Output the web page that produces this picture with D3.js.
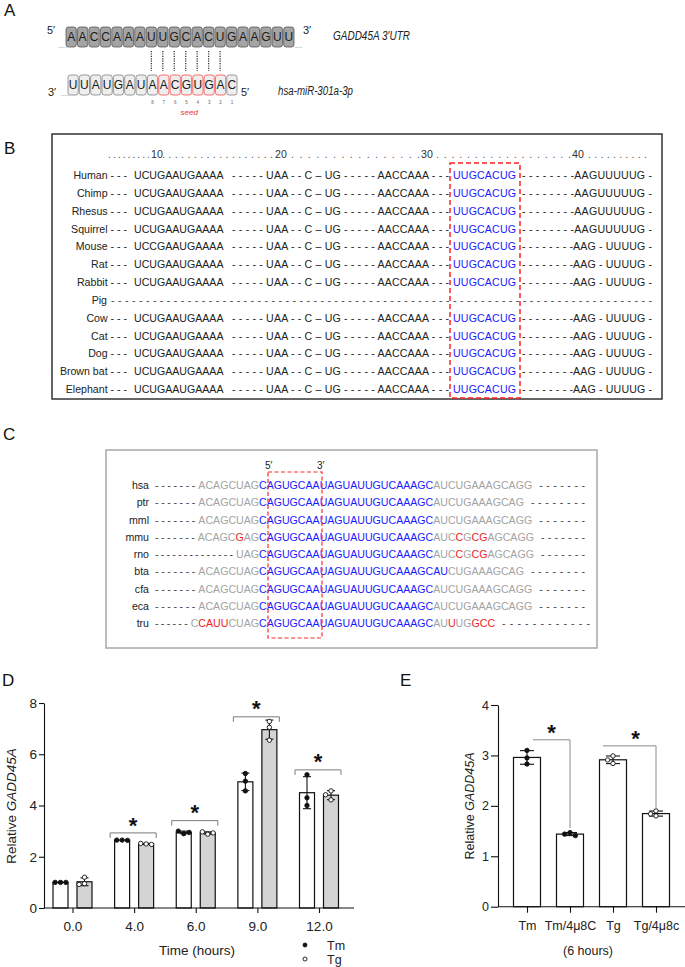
<!DOCTYPE html>
<html><head><meta charset="utf-8">
<script src="https://cdn.jsdelivr.net/npm/d3@7"></script>
<style>
body{margin:0;background:#fff}
svg{display:block;font-family:"Liberation Sans",Arial,Helvetica,sans-serif}
</style>
</head><body>
<svg id="c" width="685" height="967"></svg>
<script>
// ---------------- DATA ----------------
// Panel A
const utrSeq = "AACCAAAUUGCACUGAAGUU".split("");
const mirSeq = "UUAUGAUAACGUGAC".split("");
const seedIdx = [8, 9, 10, 11, 12, 13];
const pairIdx = [7, 8, 9, 10, 11, 12, 13];
const seedNums = ["8", "7", "6", "5", "4", "3", "2", "1"]; // under miR positions 7..14

// Panel B
const speciesB = ["Human","Chimp","Rhesus","Squirrel","Mouse","Rat","Rabbit","Pig","Cow","Cat","Dog","Brown bat","Elephant"];
const seq1B = ["UCUGAAUGAAAA","UCUGAAUGAAAA","UCUGAAUGAAAA","UCUGAAUGAAAA","UCCGAAUGAAAA","UCUGAAUGAAAA","UCUGAAUGAAAA","","UCUGAAUGAAAA","UCUGAAUGAAAA","UCUGAAUGAAAA","UCUGAAUGAAAA","UCUGAAUGAAAA"];
const midB = "- - - - - UAA - - C \u2013 UG - - - - - AACCAAA - - -";
const seedB = "UUGCACUG";
const tailB = ["- - - - - - - -AAGUUUUUG -","- - - - - - - -AAGUUUUUG -","- - - - - - - -AAGUUUUUG -","- - - - - - - -AAGUUUUUG -",
  "- - - - - - - -AAG - UUUUG -","- - - - - - - -AAG - UUUUG -","- - - - - - - -AAG - UUUUG -","",
  "- - - - - - - -AAG - UUUUG -","- - - - - - - -AAG - UUUUG -","- - - - - - - -AAG - UUUUG -","- - - - - - - -AAG - UUUUG -","- - - - - - - -AAG - UUUUG -"];
const rulerB = [[". . . . . . . . .", "10"], [". . . . . . . . . . . . . . . . . .", "20"], [". . . . . . . . . . . . . . . .", "30"], [". . . . . . . . . . . . . . . . . .", "40"], [". . . . . . . . . .", ""]];

// Panel C
const namesC = ["hsa","ptr","mml","mmu","rno","bta","cfa","eca","tru"];
const dashPreC = [7,7,7,7,14,7,7,7,6];
const preC = [
  [["ACAGCUAG","g"]],[["ACAGCUAG","g"]],[["ACAGCUAG","g"]],
  [["ACAGC","g"],["G","r"],["AG","g"]],
  [["UAG","g"]],
  [["ACAGCUAG","g"]],[["ACAGCUAG","g"]],[["ACAGCUAG","g"]],
  [["C","g"],["CAUU","r"],["CUAG","g"]]
];
const coreC = ["CAGUGCAAUAGUAUUGUCAAAGC","CAGUGCAAUAGUAUUGUCAAAGC","CAGUGCAAUAGUAUUGUCAAAGC","CAGUGCAAUAGUAUUGUCAAAGC",
  "CAGUGCAAUAGUAUUGUCAAAGC","CAGUGCAAUAGUAUUGUCAAAGCAU","CAGUGCAAUAGUAUUGUCAAAGC","CAGUGCAAUAGUAUUGUCAAAGC","CAGUGCAAUAGUAUUGUCAAAGC"];
const postC = [
  [["AUCUGAAAGCAGG","g"]],[["AUCUGAAAGCAG","g"]],[["AUCUGAAAGCAGG","g"]],
  [["AUC","g"],["C","r"],["G","g"],["CG","r"],["AGCAGG","g"]],
  [["AUC","g"],["C","r"],["G","g"],["CG","r"],["AGCAGG","g"]],
  [["CUGAAAGCAG","g"]],[["AUCUGAAAGCAGG","g"]],[["AUCUGAAAGCAGG","g"]],
  [["AU","g"],["U","r"],["UG","g"],["GCC","r"]]
];
const dashPostC = [7,8,7,7,7,8,7,7,12];

// Panel D
const timeCats = ["0.0","4.0","6.0","9.0","12.0"];
const seriesD = ["Tm","Tg"];
const tmPts = [[1.0,1.0,1.0],[2.65,2.65,2.64],[2.9,3.0,2.95],[5.25,4.95,4.57],[5.2,4.3,4.0]];
const tgPts = [[1.2,0.95,0.92],[2.5,2.52,2.48],[2.88,2.97,2.93],[7.28,7.05,6.55],[4.57,4.42,4.22]];
const sigCatsD = ["4.0","6.0","9.0","12.0"];
const sigLevelsD = [2.93,3.41,7.46,5.39];
const yTicksD = [0,2,4,6,8];

// Panel E
const condE = ["Tm","Tm/4\u03bc8C","Tg","Tg/4\u03bc8c"];
const ptsE = [[3.1,2.95,2.83],[1.47,1.44,1.41],[2.99,2.91,2.84],[1.9,1.84,1.8]];
const filledE = [true,true,false,false];
const sigFromE = ["Tm","Tg"];
const sigToE = ["Tm/4\u03bc8C","Tg/4\u03bc8c"];
const sigLevelsE = [3.31,3.19];
const sigDropE = [1.56,1.92];
const yTicksE = [0,1,2,3,4];

// ---------------- DRAW ----------------
const svg = d3.select("#c");
const colors = {g:"#a3a3a3", r:"#ee1c1c", b:"#1a1aff", d:"#444", k:"#222"};

// panel letters
const letters = [["A",4,16],["B",4,154],["C",3,440],["D",2,686],["E",400,686]];
svg.selectAll("text.plabel").data(letters).join("text").attr("class","plabel")
  .attr("x",d=>d[1]).attr("y",d=>d[2]).attr("font-size",17).attr("fill","#111").text(d=>d[0]);

// ===== Panel A =====
const gA = svg.append("g");
const topX = d3.scaleBand().domain(d3.range(utrSeq.length)).range([66,294]).paddingInner(0.1);
const botX = d3.scaleBand().domain(d3.range(mirSeq.length)).range([68,237]).paddingInner(0.1);
const topY = 27, botY = 75, boxH = 20;
gA.selectAll("rect.t").data(utrSeq).join("rect").attr("class","t")
  .attr("x",(d,i)=>topX(i)).attr("y",topY).attr("width",topX.bandwidth()).attr("height",boxH)
  .attr("rx",2.5).attr("fill","#a4a4a4").attr("stroke","#555").attr("stroke-width",0.8);
gA.selectAll("text.t").data(utrSeq).join("text").attr("class","t")
  .attr("x",(d,i)=>topX(i)+topX.bandwidth()/2).attr("y",topY+boxH/2+4.3)
  .attr("text-anchor","middle").attr("font-size",12).attr("fill","#1a1a1a").text(d=>d);
gA.selectAll("rect.b").data(mirSeq).join("rect").attr("class","b")
  .attr("x",(d,i)=>botX(i)).attr("y",botY).attr("width",botX.bandwidth()).attr("height",boxH)
  .attr("rx",2.5).attr("fill","#eeeeee")
  .attr("stroke",(d,i)=>seedIdx.includes(i)?"#ff5a5a":"#8c8c8c").attr("stroke-width",0.9);
gA.selectAll("text.b").data(mirSeq).join("text").attr("class","b")
  .attr("x",(d,i)=>botX(i)+botX.bandwidth()/2).attr("y",botY+boxH/2+4.3)
  .attr("text-anchor","middle").attr("font-size",12).attr("fill","#1a1a1a").text(d=>d);
gA.selectAll("line.p").data(pairIdx).join("line").attr("class","p")
  .attr("x1",i=>topX(i)+topX.bandwidth()/2).attr("x2",i=>topX(i)+topX.bandwidth()/2)
  .attr("y1",51).attr("y2",71).attr("stroke","#333").attr("stroke-width",1.3).attr("stroke-dasharray","1.2,1.2");
gA.selectAll("text.n").data(seedNums).join("text").attr("class","n")
  .attr("x",(d,k)=>botX(7+k)+botX.bandwidth()/2).attr("y",104)
  .attr("text-anchor","middle").attr("font-size",4.5).attr("fill","#666").text(d=>d);
gA.append("text").attr("x",(botX(8)+botX(13)+botX.bandwidth())/2-3).attr("y",115)
  .attr("text-anchor","middle").attr("font-size",8).attr("font-style","italic").attr("fill","#ee3333").text("seed");
const aTexts = [["5\u2032",47,34,11],["3\u2032",303,34,11],["3\u2032",48,96,11],["5\u2032",241,96,11]];
gA.selectAll("text.e").data(aTexts).join("text").attr("class","e")
  .attr("x",d=>d[1]).attr("y",d=>d[2]).attr("font-size",d=>d[3]).attr("fill","#222").text(d=>d[0]);
const aDots = [[58,48],[294,48],[61,96]];
gA.selectAll("text.dd").data(aDots).join("text").attr("class","dd")
  .attr("x",d=>d[0]).attr("y",d=>d[1]).attr("font-size",6).attr("fill","#444").text(".....");
gA.append("text").attr("x",333).attr("y",40).attr("font-size",12.5).attr("font-style","italic")
  .attr("fill","#222").attr("textLength",77).attr("lengthAdjust","spacingAndGlyphs").text("GADD45A 3\u2032UTR");
gA.append("text").attr("x",278).attr("y",95).attr("font-size",12.5).attr("font-style","italic")
  .attr("fill","#222").attr("textLength",75).attr("lengthAdjust","spacingAndGlyphs").text("hsa-miR-301a-3p");

// ===== Panel B =====
const gB = svg.append("g").attr("font-size",10.6).attr("fill","#222");
gB.append("rect").attr("x",52).attr("y",134).attr("width",610).attr("height",265)
  .attr("fill","none").attr("stroke","#333").attr("stroke-width",1.5);
const rulerX = [[108,150],[162,273],[291,420],[436,571],[588,647]];
const rulerNumX = [151,275,421,572];
rulerB.forEach((r,i)=>{
  gB.append("text").attr("x",rulerX[i][0]).attr("y",158).attr("fill","#555")
    .attr("textLength",rulerX[i][1]-rulerX[i][0]).attr("lengthAdjust","spacing").text(r[0]);
  if (r[1]) gB.append("text").attr("x",rulerNumX[i]).attr("y",158).attr("fill","#333").text(r[1]);
});
const rowYB = d3.scalePoint().domain(speciesB).range([175,389]);
speciesB.forEach((sp,i)=>{
  const y = rowYB(sp)+4;
  if (sp === "Pig") {
    gB.append("text").attr("x",107).attr("y",y).attr("text-anchor","end").text(sp);
    gB.append("text").attr("x",111).attr("y",y).attr("fill","#444")
      .attr("textLength",541).attr("lengthAdjust","spacing").text(d3.range(78).map(()=>"-").join(" "));
    return;
  }
  gB.append("text").attr("x",127).attr("y",y).attr("text-anchor","end").text(sp+" - - -");
  gB.append("text").attr("x",134).attr("y",y).text(seq1B[i]);
  gB.append("text").attr("x",232).attr("y",y).attr("textLength",217).attr("lengthAdjust","spacing").text(midB);
  gB.append("text").attr("x",453).attr("y",y).attr("fill",colors.b).attr("textLength",63).attr("lengthAdjust","spacing").text(seedB);
  gB.append("text").attr("x",522).attr("y",y).attr("textLength",130).attr("lengthAdjust","spacing").text(tailB[i]);
});
gB.append("rect").attr("x",450).attr("y",163).attr("width",70).attr("height",235)
  .attr("fill","none").attr("stroke","#ff2222").attr("stroke-width",1.5).attr("stroke-dasharray","5,3");

// ===== Panel C =====
const gC = svg.append("g").attr("font-size",10.6);
gC.append("rect").attr("x",106).attr("y",450).attr("width",491).attr("height",198)
  .attr("fill","none").attr("stroke","#a8a8a8").attr("stroke-width",1.5);
const rowYC = d3.scalePoint().domain(namesC).range([485,623]);
const coreX = 259;
namesC.forEach((nm,i)=>{
  const y = rowYC(nm)+4;
  gC.append("text").attr("x",149).attr("y",y).attr("text-anchor","end").attr("fill","#222").text(nm);
  const pre = gC.append("text").attr("x",coreX).attr("y",y).attr("text-anchor","end");
  preC[i].forEach(s=>pre.append("tspan").attr("fill",colors[s[1]]).text(s[0]));
  const preW = pre.node().getComputedTextLength();
  const preStart = coreX - preW;
  gC.append("text").attr("x",155).attr("y",y).attr("fill","#444")
    .attr("textLength",preStart-3-155).attr("lengthAdjust","spacing")
    .text(d3.range(dashPreC[i]).map(()=>"-").join(" "));
  const post = gC.append("text").attr("x",coreX).attr("y",y);
  post.append("tspan").attr("fill",colors.b).text(coreC[i]);
  postC[i].forEach(s=>post.append("tspan").attr("fill",colors[s[1]]).text(s[0]));
  const postEnd = coreX + post.node().getComputedTextLength();
  const endX = nm === "tru" ? 590 : 585;
  gC.append("text").attr("x",postEnd+7).attr("y",y).attr("fill","#444")
    .attr("textLength",endX-postEnd-7).attr("lengthAdjust","spacing")
    .text(d3.range(dashPostC[i]).map(()=>"-").join(" "));
});
gC.append("rect").attr("x",268).attr("y",472).attr("width",54).attr("height",166)
  .attr("fill","none").attr("stroke","#ff2a2a").attr("stroke-width",1.2).attr("stroke-dasharray","4,2.5");
gC.append("text").attr("x",265).attr("y",469).attr("font-size",10).attr("fill","#222").text("5\u2032");
gC.append("text").attr("x",317).attr("y",469).attr("font-size",10).attr("fill","#222").text("3\u2032");

// helper: swarm offsets
function swarm(vals, yScale, r) {
  const placed = [];
  const cands = [0,-1,1,-2,2,-3,3];
  return vals.map(v=>{
    const y = yScale(v);
    let off = 0;
    for (const c of cands) {
      const dx = c*(2*r+1);
      if (placed.every(p=>Math.hypot(p[0]-dx,p[1]-y) >= 2*r+0.6)) { off = dx; break; }
    }
    placed.push([off,y]);
    return off;
  });
}
function styleAxis(g, fs) {
  g.selectAll("text").attr("font-size",fs).attr("fill","#222").attr("font-family",'"Liberation Sans",Arial,sans-serif');
  g.selectAll("line").attr("stroke","#111").attr("stroke-width",1.1);
  g.selectAll("path").attr("stroke","#111").attr("stroke-width",1.1);
}

// ===== Panel D =====
const gD = svg.append("g");
const xD = d3.scalePoint().domain(timeCats).range([72.5,319]);
const subD = d3.scaleBand().domain(seriesD).range([-19.5,19.5]).paddingInner(0.375);
const yD = d3.scaleLinear().domain([0,8]).range([908,703]);
const dataD = [];
timeCats.forEach((c,i)=>{
  [[tmPts[i],"Tm"],[tgPts[i],"Tg"]].forEach(([pts,s])=>{
    dataD.push({cat:c, s, pts, mean:d3.mean(pts), sd:d3.deviation(pts)});
  });
});
gD.selectAll("rect.bar").data(dataD).join("rect").attr("class","bar")
  .attr("x",d=>xD(d.cat)+subD(d.s)).attr("width",subD.bandwidth())
  .attr("y",d=>yD(d.mean)).attr("height",d=>yD(0)-yD(d.mean))
  .attr("fill",d=>d.s==="Tm"?"#ffffff":"#d4d4d4").attr("stroke","#111").attr("stroke-width",1.2);
dataD.forEach(d=>{
  const cx = xD(d.cat)+subD(d.s)+subD.bandwidth()/2;
  if (d.sd > 0.01) {
    gD.append("line").attr("x1",cx).attr("x2",cx).attr("y1",yD(d.mean-d.sd)).attr("y2",yD(d.mean+d.sd)).attr("stroke","#111").attr("stroke-width",1.1);
    [d.mean-d.sd,d.mean+d.sd].forEach(v=>gD.append("line").attr("x1",cx-4).attr("x2",cx+4).attr("y1",yD(v)).attr("y2",yD(v)).attr("stroke","#111").attr("stroke-width",1.1));
  }
  const offs = swarm(d.pts,yD,2.2);
  d.pts.forEach((v,k)=>{
    gD.append("circle").attr("cx",cx+offs[k]).attr("cy",yD(v)).attr("r",2.2)
      .attr("fill",d.s==="Tm"?"#111":"#fff").attr("stroke","#111").attr("stroke-width",0.9);
  });
});
const axYD = gD.append("g").attr("transform","translate(44,0)")
  .call(d3.axisLeft(yD).tickValues(yTicksD).tickSize(5).tickSizeOuter(0).tickPadding(2).tickFormat(d3.format("d")));
styleAxis(axYD,13.5);
const axXD = gD.append("g").attr("transform","translate(0,908)")
  .call(d3.axisBottom(xD).tickSize(5).tickPadding(8));
axXD.select(".domain").remove();
styleAxis(axXD,13.5);
gD.append("line").attr("x1",44).attr("x2",354).attr("y1",908).attr("y2",908).attr("stroke","#111").attr("stroke-width",1.1);
sigCatsD.forEach((c,i)=>{
  const y = yD(sigLevelsD[i]), x0 = xD(c)-24, x1 = xD(c)+22;
  gD.append("path").attr("d",`M${x0},${y+5}V${y}H${x1}V${y+5}`).attr("fill","none").attr("stroke","#7a7a7a").attr("stroke-width",1);
  gD.append("text").attr("x",(x0+x1)/2).attr("y",y-13+12.6).attr("text-anchor","middle")
    .attr("font-size",22).attr("font-weight","bold").attr("fill","#111").text("*");
});
gD.append("text").attr("transform","translate(16,806) rotate(-90)").attr("text-anchor","middle")
  .attr("font-size",13.5).attr("fill","#222")
  .call(t=>{t.append("tspan").text("Relative "); t.append("tspan").attr("font-style","italic").text("GADD45A");});
gD.append("text").attr("x",197).attr("y",955).attr("text-anchor","middle").attr("font-size",13.5).attr("fill","#222").text("Time (hours)");
seriesD.forEach((s,i)=>{
  const y = 945 + i*14;
  gD.append("circle").attr("cx",305).attr("cy",y).attr("r",2).attr("fill",i===0?"#111":"#fff").attr("stroke","#111").attr("stroke-width",0.9);
  gD.append("text").attr("x",327).attr("y",y+4.5).attr("font-size",12.5).attr("fill","#222").text(s);
});

// ===== Panel E =====
const gE = svg.append("g");
const xE = d3.scalePoint().domain(condE).range([527,656]);
const bwE = 27;
const yE = d3.scaleLinear().domain([0,4]).range([906.7,705]);
const dataE = condE.map((c,i)=>({c, pts:ptsE[i], filled:filledE[i], mean:d3.mean(ptsE[i]), sd:d3.deviation(ptsE[i])}));
gE.selectAll("rect.bar").data(dataE).join("rect").attr("class","bar")
  .attr("x",d=>xE(d.c)-bwE/2).attr("width",bwE).attr("y",d=>yE(d.mean)).attr("height",d=>yE(0)-yE(d.mean))
  .attr("fill","#fff").attr("stroke","#111").attr("stroke-width",1.2);
dataE.forEach(d=>{
  const cx = xE(d.c);
  gE.append("line").attr("x1",cx).attr("x2",cx).attr("y1",yE(d.mean-d.sd)).attr("y2",yE(d.mean+d.sd)).attr("stroke","#111").attr("stroke-width",1.1);
  [d.mean-d.sd,d.mean+d.sd].forEach(v=>gE.append("line").attr("x1",cx-7).attr("x2",cx+7).attr("y1",yE(v)).attr("y2",yE(v)).attr("stroke","#111").attr("stroke-width",1.1));
  const offs = swarm(d.pts,yE,2.2);
  d.pts.forEach((v,k)=>gE.append("circle").attr("cx",cx+offs[k]).attr("cy",yE(v)).attr("r",2.2)
    .attr("fill",d.filled?"#111":"#fff").attr("stroke","#111").attr("stroke-width",0.9));
});
const axYE = gE.append("g").attr("transform","translate(498,0)")
  .call(d3.axisLeft(yE).tickValues(yTicksE).tickSize(7).tickSizeOuter(0).tickPadding(2).tickFormat(d3.format("d")));
styleAxis(axYE,12.5);
const axXE = gE.append("g").attr("transform","translate(0,906.7)")
  .call(d3.axisBottom(xE).tickSize(6).tickPadding(8));
axXE.select(".domain").remove();
styleAxis(axXE,12.5);
gE.append("line").attr("x1",498).attr("x2",685).attr("y1",906.7).attr("y2",906.7).attr("stroke","#111").attr("stroke-width",1.1);
sigFromE.forEach((f,i)=>{
  const y = yE(sigLevelsE[i]);
  const x0 = xE(f) + (i===0?6:-10), x1 = xE(sigToE[i]);
  gE.append("path").attr("d",`M${x0},${y}H${x1}V${yE(sigDropE[i])}`).attr("fill","none").attr("stroke","#8a8a8a").attr("stroke-width",1);
  gE.append("text").attr("x",(x0+x1)/2+(i===0?0:6)).attr("y",y-12+12.6).attr("text-anchor","middle")
    .attr("font-size",22).attr("font-weight","bold").attr("fill","#111").text("*");
});
gE.append("text").attr("transform","translate(474,806) rotate(-90)").attr("text-anchor","middle")
  .attr("font-size",12.5).attr("fill","#222")
  .call(t=>{t.append("tspan").text("Relative "); t.append("tspan").attr("font-style","italic").text("GADD45A");});
gE.append("text").attr("x",588).attr("y",955).attr("text-anchor","middle").attr("font-size",12.5).attr("fill","#222").text("(6 hours)");
</script>
</body></html>
